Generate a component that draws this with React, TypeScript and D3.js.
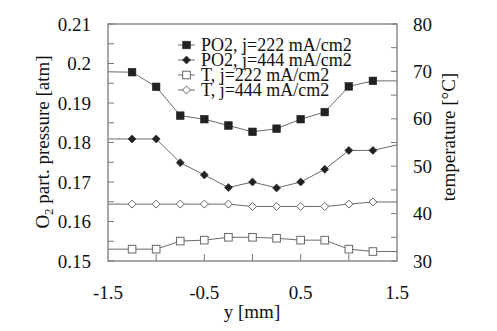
import React from "react";
import * as d3 from "d3";

const yPos = [-1.25, -1.0, -0.75, -0.5, -0.25, 0, 0.25, 0.5, 0.75, 1.0, 1.25];
const po2_222 = [0.1978, 0.1941, 0.1868, 0.1859, 0.1843, 0.1827, 0.1835, 0.1859, 0.1877, 0.1942, 0.1956];
const po2_444 = [0.1809, 0.1809, 0.1749, 0.1718, 0.1686, 0.17, 0.1685, 0.17, 0.1732, 0.178, 0.178];
const t_222 = [32.5, 32.5, 34.2, 34.4, 35.0, 35.0, 34.8, 34.4, 34.4, 32.5, 32.0];
const t_444 = [42.0, 42.0, 42.0, 42.0, 42.0, 41.5, 41.5, 41.5, 41.5, 42.0, 42.45];
// values where the curves meet the frame edges (y = -1.5 and 1.5)
const edgeX = [-1.5, 1.5];
const po2_222_edge = [0.1979, 0.1956];
const po2_444_edge = [0.1809, 0.1794];
const t_222_edge = [32.5, 32.0];
const t_444_edge = [42.0, 42.45];

const xTickLabels = [-1.5, -0.5, 0.5, 1.5];
const xTicks = [-1.0, -0.5, 0, 0.5, 1.0];
const leftTickLabels = [0.15, 0.16, 0.17, 0.18, 0.19, 0.2, 0.21];
const rightTickLabels = [30, 40, 50, 60, 70, 80];
const legendLabels = ["PO2, j=222 mA/cm2", "PO2, j=444 mA/cm2", "T, j=222 mA/cm2", "T, j=444 mA/cm2"];

const W = 497, H = 331;
const L = 108, R = 397, T = 24, B = 261;
const FONT = "Liberation Serif, Times New Roman, DejaVu Serif, serif";
const AX = "#7a7a7a";
const LINE = "#6a6a6a";
const tStyle = { fontFamily: FONT };

export default function App() {
  const x = d3.scaleLinear().domain([-1.5, 1.5]).range([L, R]);
  const yl = d3.scaleLinear().domain([0.15, 0.21]).range([B, T]);
  const yr = d3.scaleLinear().domain([30, 80]).range([B, T]);

  const leftMinor = d3.range(0, 13).map((i) => 0.15 + i * 0.005);
  const rightMinor = d3.range(0, 11).map((i) => 30 + i * 5);

  const series = [
    { vals: po2_222, edge: po2_222_edge, sc: yl, kind: "fsq" },
    { vals: po2_444, edge: po2_444_edge, sc: yl, kind: "fdi" },
    { vals: t_222, edge: t_222_edge, sc: yr, kind: "osq" },
    { vals: t_444, edge: t_444_edge, sc: yr, kind: "odi" },
  ];

  const marker = (kind: string, cx: number, cy: number, key: any) => {
    if (kind === "fsq")
      return <rect key={key} x={cx - 3.8} y={cy - 3.8} width={7.6} height={7.6} fill="#222" stroke="#222" strokeWidth={0.6} />;
    if (kind === "osq")
      return <rect key={key} x={cx - 3.8} y={cy - 3.8} width={7.6} height={7.6} fill="#fff" stroke="#666" strokeWidth={1} />;
    const r = 4;
    const pts = `${cx},${cy - r} ${cx + r},${cy} ${cx},${cy + r} ${cx - r},${cy}`;
    if (kind === "fdi") return <polygon key={key} points={pts} fill="#222" stroke="#222" strokeWidth={0.6} />;
    return <polygon key={key} points={pts} fill="#fff" stroke="#666" strokeWidth={1} />;
  };

  return (
    <div style={{ position: "absolute", left: 0, top: 0 }}>
      <svg width={W} height={H} style={{ display: "block", background: "#fff" }}>
        <rect x={0} y={0} width={W} height={H} fill="#fff" />
        {leftMinor.map((v, i) => (
          <line key={"lt" + i} x1={L} x2={L + 6} y1={yl(v)} y2={yl(v)} stroke={AX} strokeWidth={1} />
        ))}
        {rightMinor.map((v, i) => (
          <line key={"rt" + i} x1={R - 6} x2={R} y1={yr(v)} y2={yr(v)} stroke={AX} strokeWidth={1} />
        ))}
        {xTicks.map((v, i) => (
          <line key={"xt" + i} x1={x(v)} x2={x(v)} y1={B - 7} y2={B} stroke={AX} strokeWidth={1} />
        ))}
        {series.map((s, si) => {
          const pts: [number, number][] = [
            [x(edgeX[0]), s.sc(s.edge[0])],
            ...yPos.map((p, i) => [x(p), s.sc(s.vals[i])] as [number, number]),
            [x(edgeX[1]), s.sc(s.edge[1])],
          ];
          const path = d3.line()(pts) || "";
          return (
            <g key={"s" + si}>
              <path d={path} fill="none" stroke={LINE} strokeWidth={1} />
              {yPos.map((p, i) => marker(s.kind, x(p), s.sc(s.vals[i]), i))}
            </g>
          );
        })}
        <rect x={L} y={T} width={R - L} height={B - T} fill="none" stroke={AX} strokeWidth={1.3} />
        {leftTickLabels.map((v, i) => (
          <text key={"ll" + i} x={91} y={yl(v)} dy="0.35em" textAnchor="end" style={tStyle} fontSize={19} fill="#111">
            {String(v)}
          </text>
        ))}
        {rightTickLabels.map((v, i) => (
          <text key={"rl" + i} x={413} y={yr(v)} dy="0.35em" textAnchor="start" style={tStyle} fontSize={19} fill="#111">
            {String(v)}
          </text>
        ))}
        {xTickLabels.map((v, i) => (
          <text key={"xl" + i} x={x(v)} y={299} textAnchor="middle" style={tStyle} fontSize={19} fill="#111">
            {String(v)}
          </text>
        ))}
        <text x={252} y={318} textAnchor="middle" style={tStyle} fontSize={19} fill="#111">
          y [mm]
        </text>
        <text transform={`translate(49,${142}) rotate(-90)`} textAnchor="middle" style={tStyle} fontSize={19} fill="#111">
          O<tspan fontSize={13} dy={4}>2</tspan>
          <tspan dy={-4}> part. pressure [atm]</tspan>
        </text>
        <text transform={`translate(455,${137}) rotate(-90)`} textAnchor="middle" style={tStyle} fontSize={19} fill="#111">
          temperature [°C]
        </text>
        {legendLabels.map((lab, i) => {
          const cy = 45 + i * 15;
          return (
            <g key={"lg" + i}>
              <line x1={178} x2={195} y1={cy} y2={cy} stroke={LINE} strokeWidth={1} />
              {marker(series[i].kind, 186.5, cy, "m")}
              <text x={201} y={cy} dy="0.35em" style={tStyle} fontSize={18} fill="#111">
                {lab}
              </text>
            </g>
          );
        })}
      </svg>
    </div>
  );
}
